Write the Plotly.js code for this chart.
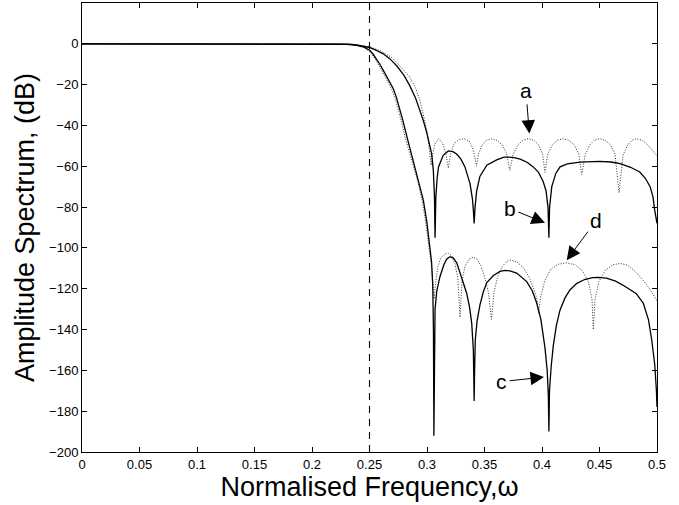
<!DOCTYPE html>
<html>
<head>
<meta charset="utf-8">
<script src="https://cdn.plot.ly/plotly-3.0.1.min.js"></script>
<style>html,body{margin:0;padding:0;background:#fff;}#chart{width:679px;height:505px;}</style>
</head>
<body>
<div id="chart"></div>
<script>
// ---- data ----
// curve a (dotted, upper stopband)
const aFreq = [0, 0.2, 0.22, 0.24, 0.25, 0.26, 0.27, 0.28, 0.285, 0.29, 0.294, 0.298, 0.3, 0.302, 0.3035, 0.305, 0.307, 0.31, 0.3135, 0.3165, 0.3186, 0.3205, 0.3235, 0.3275, 0.332, 0.3365, 0.3395, 0.3415, 0.343, 0.3448, 0.348, 0.352, 0.356, 0.361, 0.3655, 0.369, 0.372, 0.375, 0.379, 0.3835, 0.388, 0.393, 0.397, 0.4005, 0.4026, 0.405, 0.409, 0.4135, 0.4186, 0.4235, 0.428, 0.432, 0.4345, 0.4375, 0.4415, 0.4455, 0.45, 0.455, 0.4595, 0.4635, 0.467, 0.4705, 0.4745, 0.4785, 0.482, 0.487, 0.491, 0.495, 0.4985, 0.5];
const aDb   = [0, 0, -0.05, -0.6, -1.5, -3.5, -7, -13, -16.3, -21.5, -28, -37.5, -43, -52, -59.5, -54, -49, -46.5, -48.5, -54, -61, -54, -49, -47, -46.5, -47.5, -51, -55, -60, -54, -49.5, -47.2, -46.5, -47.3, -49.5, -53.5, -62, -54, -49.5, -47.2, -46.5, -47.3, -49.5, -54, -63, -54, -49.5, -47.2, -46.5, -47.3, -49.5, -54, -64, -54.5, -49.5, -47.2, -46.5, -47.3, -49.5, -54, -73, -54.5, -49.5, -47.2, -46.5, -47.3, -49, -51.5, -54, -55];

// curve b (solid, upper stopband)
const bFreq = [0, 0.2, 0.22, 0.23, 0.24, 0.25, 0.256, 0.262, 0.268, 0.274, 0.28, 0.285, 0.29, 0.2935, 0.2968, 0.3, 0.302, 0.304, 0.3055, 0.3065, 0.307, 0.3077, 0.3088, 0.31, 0.3142, 0.3186, 0.3225, 0.3258, 0.3295, 0.333, 0.3374, 0.3395, 0.3403, 0.341, 0.3418, 0.3432, 0.346, 0.352, 0.3606, 0.367, 0.3707, 0.376, 0.381, 0.387, 0.3924, 0.397, 0.401, 0.4035, 0.4052, 0.406, 0.4066, 0.4085, 0.412, 0.4157, 0.422, 0.433, 0.45, 0.46, 0.468, 0.477, 0.485, 0.49, 0.494, 0.4965, 0.498, 0.4995, 0.5];
const bDb   = [0, 0, -0.05, -0.2, -0.7, -1.8, -3.2, -4.9, -7.5, -11, -15.5, -20.5, -26.5, -32, -37.6, -44, -48.5, -53.8, -62, -75, -95, -75, -66, -60.3, -54.5, -52.5, -52.8, -54, -56.5, -60.3, -68.5, -76, -81.5, -88, -80, -72, -65, -59.5, -56.9, -55.5, -55.5, -55.8, -56.5, -58, -60.3, -63, -67.5, -72, -80, -95, -80, -70, -63.5, -60.3, -58.8, -58, -57.6, -57.9, -58.7, -60.5, -62.8, -66, -70, -75, -81.5, -86, -88];

// curve c (solid, lower stopband)
const cFreq = [0, 0.2, 0.22, 0.235, 0.245, 0.2504, 0.253, 0.256, 0.259, 0.262, 0.266, 0.2707, 0.2735, 0.276, 0.279, 0.2823, 0.285, 0.288, 0.2925, 0.2968, 0.2998, 0.3026, 0.304, 0.305, 0.3056, 0.306, 0.3064, 0.307, 0.3085, 0.3113, 0.3145, 0.317, 0.32, 0.323, 0.326, 0.3287, 0.3315, 0.3345, 0.337, 0.3389, 0.3403, 0.3408, 0.341, 0.3414, 0.342, 0.3435, 0.346, 0.349, 0.352, 0.3577, 0.3635, 0.368, 0.372, 0.378, 0.3837, 0.3867, 0.3915, 0.3954, 0.399, 0.4026, 0.4045, 0.4055, 0.406, 0.4065, 0.408, 0.4098, 0.4125, 0.4157, 0.42, 0.4243, 0.43, 0.437, 0.444, 0.449, 0.456, 0.464, 0.472, 0.482, 0.488, 0.4925, 0.4954, 0.498, 0.4995, 0.5];
const cDb   = [0, 0, -0.05, -0.3, -1.5, -3.3, -5, -7.3, -10, -13, -17, -22, -26.5, -31, -37.5, -45, -51, -57.5, -67, -76.6, -87, -99.5, -107, -118, -140, -192, -150, -130, -121, -114, -108.5, -105.5, -104.3, -105, -107.5, -112.5, -117, -122.2, -129, -137, -150, -160, -175, -160, -145, -136, -128, -121.5, -117, -113.5, -111.5, -111, -111.2, -112.3, -114.8, -116.5, -121, -127, -135, -149, -160, -172, -190, -170, -158, -148, -138, -130.4, -124.5, -120.6, -117.5, -115.5, -114.6, -114.4, -114.8, -116.3, -118.8, -122.4, -127, -135, -145, -157, -170, -178];

// curve d (dotted, lower stopband)
const dFreq = [0, 0.2, 0.22, 0.235, 0.245, 0.249, 0.252, 0.255, 0.258, 0.261, 0.265, 0.2695, 0.2725, 0.275, 0.278, 0.281, 0.284, 0.2875, 0.292, 0.2958, 0.299, 0.3015, 0.3035, 0.305, 0.3062, 0.3075, 0.3095, 0.312, 0.3155, 0.3186, 0.3215, 0.3245, 0.3268, 0.3287, 0.3305, 0.333, 0.3365, 0.34, 0.3435, 0.347, 0.3505, 0.3535, 0.356, 0.3585, 0.3615, 0.3655, 0.3695, 0.373, 0.378, 0.3835, 0.3885, 0.3925, 0.3955, 0.397, 0.3988, 0.4025, 0.4075, 0.414, 0.4215, 0.429, 0.4355, 0.4405, 0.4435, 0.4446, 0.4462, 0.4495, 0.455, 0.4615, 0.468, 0.4745, 0.481, 0.4875, 0.4935, 0.498, 0.5];
const dDb   = [0, 0, -0.05, -0.4, -1.8, -3.4, -5, -7.5, -10.3, -13.5, -17.7, -22.5, -27.3, -32, -38.5, -46, -52, -59, -67.5, -77, -88, -99, -107, -117, -125, -117, -109, -105, -103, -102.7, -103.8, -108, -115, -134, -116, -109, -105.5, -104.5, -105.5, -109, -115, -122, -135, -121, -114, -109, -106.6, -106, -106.8, -109.5, -114, -119.5, -125, -132, -124, -116, -110.5, -108, -107.3, -108.3, -111.5, -117, -125, -140, -125, -116.5, -111, -108.3, -107.6, -108.5, -111.5, -115.5, -120, -124, -126];

// cut-off marker
const cutoffX = [0.25, 0.25];
const cutoffY = [-200, 20];

// axis ticks
const xTicks = [0, 0.05, 0.1, 0.15, 0.2, 0.25, 0.3, 0.35, 0.4, 0.45, 0.5];
const xTickText = ['0', '0.05', '0.1', '0.15', '0.2', '0.25', '0.3', '0.35', '0.4', '0.45', '0.5'];
const yTicks = [-200, -180, -160, -140, -120, -100, -80, -60, -40, -20, 0];

// labels: text position and arrow tip
const labelNames = ['a', 'b', 'c', 'd'];
const labelTextX = [0.3860, 0.3722, 0.3649, 0.4470];
const labelTextY = [-22.8, -80.8, -165.5, -86.7];
const labelTipX  = [0.3890, 0.4026, 0.4017, 0.4215];
const labelTipY  = [-44, -87.7, -163.3, -106];

// ---- drawing ----
const traces = [
  {x: cutoffX, y: cutoffY, mode: 'lines', line: {color: '#000', width: 1.1, dash: '7px,6px'}, hoverinfo: 'skip'},
  {x: aFreq, y: aDb, mode: 'lines', name: 'a', line: {color: '#333', width: 1, dash: '1px,1.6px'}},
  {x: dFreq, y: dDb, mode: 'lines', name: 'd', line: {color: '#333', width: 1, dash: '1px,1.6px'}},
  {x: bFreq, y: bDb, mode: 'lines', name: 'b', line: {color: '#000', width: 1.3}},
  {x: cFreq, y: cDb, mode: 'lines', name: 'c', line: {color: '#000', width: 1.3}}
];

const annotations = labelNames.map((t, i) => ({
  x: labelTipX[i], y: labelTipY[i], xref: 'x', yref: 'y',
  ax: labelTextX[i], ay: labelTextY[i], axref: 'x', ayref: 'y',
  text: t, showarrow: true, arrowhead: 2, arrowsize: 2.7, arrowwidth: 1,
  arrowcolor: '#000', standoff: 0, startstandoff: 1,
  font: {family: 'Liberation Sans, Arial, sans-serif', size: 21, color: '#000'}
}));

const axisFont = {family: 'Liberation Sans, Arial, sans-serif', size: 13, color: '#000'};
const titleFont = {family: 'Liberation Sans, Arial, sans-serif', size: 27, color: '#000'};

const layout = {
  width: 679, height: 505,
  margin: {l: 82, r: 22, t: 3, b: 53},
  paper_bgcolor: '#fff', plot_bgcolor: '#fff',
  showlegend: false,
  font: axisFont,
  xaxis: {
    range: [0, 0.5], tickvals: xTicks, ticktext: xTickText,
    ticks: 'inside', ticklen: 5, tickcolor: '#000',
    showline: true, linecolor: '#000', linewidth: 1, mirror: 'ticks',
    showgrid: false, zeroline: false, tickfont: axisFont,
    title: {text: 'Normalised Frequency,ω', font: titleFont, standoff: 2}
  },
  yaxis: {
    range: [-200, 20], tickvals: yTicks,
    ticks: 'inside', ticklen: 5, tickcolor: '#000',
    showline: true, linecolor: '#000', linewidth: 1, mirror: 'ticks',
    showgrid: false, zeroline: false, tickfont: axisFont,
    title: {text: 'Amplitude Spectrum, (dB)', font: titleFont, standoff: 6}
  },
  annotations: annotations
};

Plotly.newPlot('chart', traces, layout, {staticPlot: true, displayModeBar: false});
</script>
</body>
</html>
